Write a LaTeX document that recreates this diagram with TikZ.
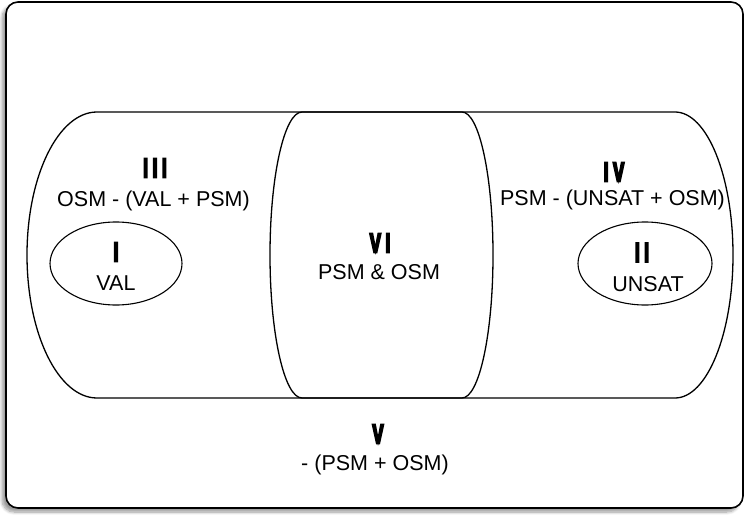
\documentclass[tikz,border=0pt]{standalone}
\usepackage{fontspec}
\setmainfont{Liberation Sans}
\newfontfamily\numfont[FakeStretch=0.6,FakeBold=6]{Liberation Sans}
\usetikzlibrary{shapes.geometric,shadows.blur}
\begin{document}
\begin{tikzpicture}[x=1pt,y=1pt,
  region/.style={draw=black,line width=1.3pt},
  subset/.style={draw=black,line width=1.1pt,ellipse,inner sep=0pt},
  numeral/.style={inner sep=0pt,font=\numfont\bfseries\fontsize{28}{28}\selectfont},
  setlabel/.style={inner sep=0pt,font=\fontsize{21.5}{23}\selectfont}]
  \useasboundingbox (0,0) rectangle (749,515);
  % frame
  \path[draw=black,line width=1.6pt,fill=white,rounded corners=12pt,
        blur shadow={shadow xshift=-4pt,shadow yshift=-4pt,shadow blur radius=3pt,shadow blur steps=8}]
        (6,7) rectangle (743,513);
  % OSM region
  \draw[region] (97,403) -- (462,403)
     arc[start angle=90,end angle=-90,x radius=31,y radius=143]
     -- (97,117)
     arc[start angle=270,end angle=90,x radius=70,y radius=143] -- cycle;
  % PSM region
  \draw[region] (302,403) -- (675,403)
     arc[start angle=90,end angle=-90,x radius=58,y radius=143]
     -- (302,117)
     arc[start angle=270,end angle=90,x radius=32,y radius=143] -- cycle;
  % VAL and UNSAT subsets
  \node[subset,minimum width=132pt,minimum height=83pt] (val) at (116,251.5) {};
  \node[subset,minimum width=134pt,minimum height=83pt] (unsat) at (645,251.5) {};
  % labels
  \node[numeral] (n3) at (155,347) {I\,I\,I};
  \node[setlabel] (t3) at (153.5,314) {OSM - (VAL + PSM)};
  \node[numeral] (n1) at (116,263) {I};
  \node[setlabel] (t1) at (116,231.5) {VAL};
  \node[numeral] (n4) at (614,343) {I\,V};
  \node[setlabel] (t4) at (612.5,315) {PSM - (UNSAT + OSM)};
  \node[numeral] (n2) at (642,262.5) {I\,I};
  \node[setlabel] (t2) at (648,230.5) {UNSAT};
  \node[numeral] (n6) at (380,272) {V\,I};
  \node[setlabel] (t6) at (379,243) {PSM \& OSM};
  \node[numeral] (n5) at (378,81) {V};
  \node[setlabel] (t5) at (375,50) {- (PSM + OSM)};
\end{tikzpicture}
\end{document}
